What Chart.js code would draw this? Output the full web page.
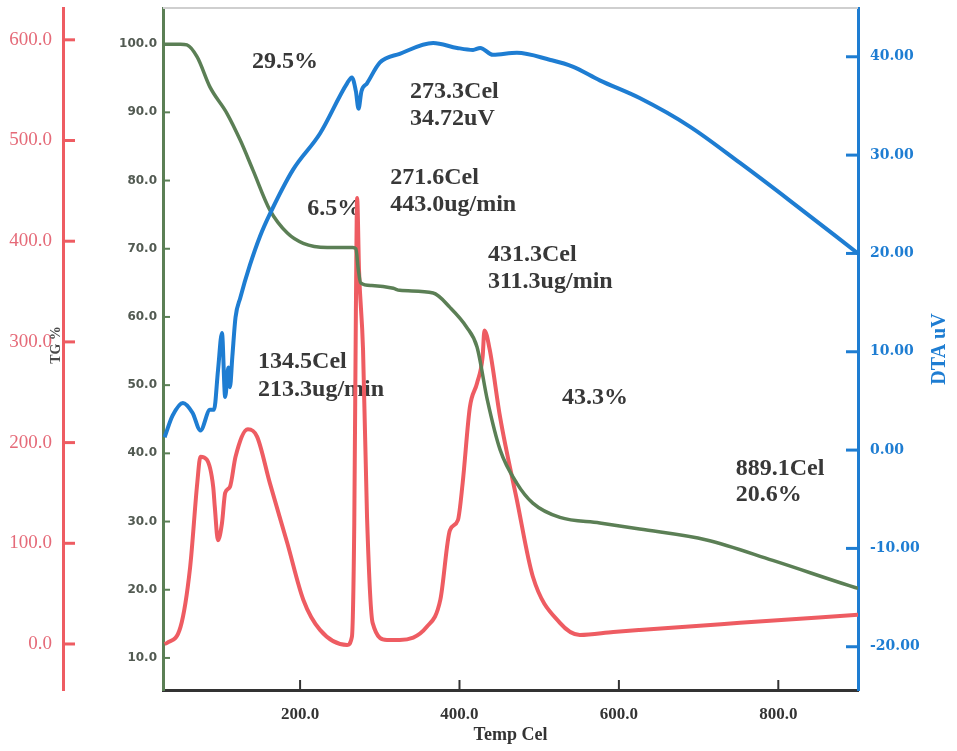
<!DOCTYPE html>
<html lang="en">
<head>
<meta charset="UTF-8">
<title>TG / DTG / DTA</title>
<script src="https://cdn.jsdelivr.net/npm/chart.js@4.4.1/dist/chart.umd.min.js"></script>
<style>
    html, body { margin: 0; padding: 0; background: #fff; }
</style>
</head>
<body>
<canvas id="myChart" width="957" height="751"></canvas>

<script>
// TG curve (mass %, left inner axis)
var tgTemp = [30, 50, 58, 71, 87, 108, 125, 141, 162, 184, 204, 234, 266, 270, 273, 276, 290, 317, 325, 367, 388, 409, 422, 435, 451, 472, 492, 526, 576, 626, 710, 793, 889, 900];
var tgMass = [100, 100, 99.9, 98.1, 93.7, 89.9, 85.9, 81.5, 75.7, 72.3, 70.8, 70.2, 70.2, 70.0, 67.0, 65.0, 64.6, 64.2, 63.9, 63.5, 61.4, 58.5, 55.6, 47.8, 40.5, 35.6, 32.7, 30.6, 29.8, 28.9, 27.3, 24.3, 20.6, 20.2];

// DTG curve (ug/min, left outer axis)
var dtgTemp = [30, 33, 50, 62, 71, 75, 83, 91, 93, 97, 102, 106, 112, 119, 134.5, 146, 162, 184, 204, 225, 259, 265, 268, 270, 271.6, 274, 279, 284, 291, 309, 325, 359, 376, 388, 398, 404, 413, 422, 429, 431.3, 438, 451, 472, 492, 526, 551, 593, 626, 752, 900];
var dtgRate = [0, 1, 17, 76, 160, 186, 183, 156, 136, 103, 120, 150, 156, 186, 213.3, 206, 160, 100, 44, 14, -1, 7, 120, 330, 443.0, 370, 292, 126, 21, 4, 4, 17, 44, 113, 123, 160, 235, 259, 285, 311.3, 292, 225, 143, 67, 21, 9, 12, 14, 21, 29];

// DTA curve (uV, right axis)
var dtaTemp = [30, 40, 53, 65, 75, 87, 92, 97, 102, 106, 110, 112, 115, 119, 125, 137, 150, 162, 191, 225, 259, 265, 270, 273.3, 277, 284, 300, 325, 367, 397, 417, 426, 442, 472, 513, 542, 576, 626, 689, 752, 814, 900];
var dtaSignal = [1.3, 3.5, 4.8, 3.8, 2.0, 4.1, 4.1, 8.1, 11.9, 5.4, 8.4, 6.4, 9.5, 13.5, 15.5, 18.8, 21.8, 24.0, 28.5, 32.2, 37.3, 37.9, 36.5, 34.72, 36.5, 37.3, 39.4, 40.3, 41.4, 40.9, 40.7, 40.9, 40.2, 40.4, 39.7, 39.0, 37.6, 35.8, 32.9, 29.2, 25.4, 20.0];

var tempTicks = [200, 400, 600, 800];
var tgTicks = [10, 20, 30, 40, 50, 60, 70, 80, 90, 100];
var dtgTicks = [0, 100, 200, 300, 400, 500, 600];
var dtaTicks = [-20, -10, 0, 10, 20, 30, 40];

// peak / step labels: [text, temp, TG %]
var notes = [
    ['29.5%', 139.8, 97.4],
    ['273.3Cel', 338, 93.0],
    ['34.72uV', 338, 89.0],
    ['271.6Cel', 313, 80.4],
    ['443.0ug/min', 313, 76.4],
    ['6.5%', 209, 75.8],
    ['431.3Cel', 435.7, 69.1],
    ['311.3ug/min', 435.7, 65.1],
    ['134.5Cel', 147.3, 53.4],
    ['213.3ug/min', 147.3, 49.3],
    ['43.3%', 528.5, 48.1],
    ['889.1Cel', 746.6, 37.8],
    ['20.6%', 746.6, 33.9]
];

(function () {
    var RED = '#ee5c62', GREEN = '#5b7f55', BLUE = '#1e7dd2';
    var SERIF = '"Liberation Serif", "Times New Roman", serif';

    function pts(xs, ys) {
        return xs.map(function (x, i) { return { x: x, y: ys[i] }; });
    }
    function fixTicks(list) {
        return function (scale) { scale.ticks = list.map(function (v) { return { value: v }; }); };
    }
    // fixed axis box, no extra room reserved for end labels
    function box(w, h) {
        return function (scale) {
            if (w) scale.width = w;
            if (h) scale.height = h;
            scale.paddingTop = 0;
            scale.paddingBottom = 0;
            scale.paddingLeft = 0;
            scale.paddingRight = 0;
        };
    }

    var notesPlugin = {
        id: 'notes',
        beforeDatasetsDraw: function (chart) {
            var ctx = chart.ctx, x = chart.scales.x, y = chart.scales.yTG;
            ctx.save();
            ctx.font = 'bold 24px ' + SERIF;
            ctx.fillStyle = '#383838';
            ctx.textBaseline = 'middle';
            ctx.textAlign = 'left';
            notes.forEach(function (n) {
                ctx.fillText(n[0], x.getPixelForValue(n[1]), y.getPixelForValue(n[2]));
            });
            ctx.restore();
        }
    };

    // short tick marks pointing into the plot, plus the rotated side titles
    var frame = {
        id: 'frame',
        afterDraw: function (chart) {
            var ctx = chart.ctx, a = chart.chartArea, s = chart.scales;
            function mark(scale, len, lw, color) {
                ctx.save();
                ctx.strokeStyle = color;
                ctx.lineWidth = lw;
                scale.ticks.forEach(function (t) {
                    var p = scale.getPixelForValue(t.value);
                    ctx.beginPath();
                    if (scale.isHorizontal()) {
                        ctx.moveTo(p, scale.top); ctx.lineTo(p, scale.top - len);
                    } else if (scale.position === 'left') {
                        ctx.moveTo(scale.right, p); ctx.lineTo(scale.right + len, p);
                    } else {
                        ctx.moveTo(scale.left, p); ctx.lineTo(scale.left - len, p);
                    }
                    ctx.stroke();
                });
                ctx.restore();
            }
            mark(s.x, 10, 2, '#333');
            mark(s.yTG, 7, 2, GREEN);
            mark(s.yDTG, 12, 3, RED);
            mark(s.yDTA, 12, 3, BLUE);

            ctx.save();
            ctx.strokeStyle = '#cfcfcf';
            ctx.lineWidth = 2;
            ctx.beginPath();
            ctx.moveTo(a.left, a.top);
            ctx.lineTo(a.right, a.top);
            ctx.stroke();

            var mid = (a.top + a.bottom) / 2;
            ctx.translate(s.yDTG.right - 7, mid - 4);
            ctx.rotate(-Math.PI / 2);
            ctx.textAlign = 'center';
            ctx.textBaseline = 'middle';
            ctx.fillStyle = '#4a4a4a';
            ctx.font = 'bold 14px ' + SERIF;
            ctx.fillText('TG %', 0, 0);
            ctx.restore();

            ctx.save();
            ctx.translate(940, mid);
            ctx.rotate(-Math.PI / 2);
            ctx.textAlign = 'center';
            ctx.textBaseline = 'middle';
            ctx.fillStyle = BLUE;
            ctx.font = 'bold 20px ' + SERIF;
            ctx.fillText('DTA uV', 0, 0);
            ctx.restore();
        }
    };

    var ctx = document.getElementById('myChart').getContext('2d');
    new Chart(ctx, {
        type: 'line',
        data: {
            datasets: [
                {
                    label: 'DTA',
                    data: pts(dtaTemp, dtaSignal),
                    yAxisID: 'yDTA',
                    borderColor: BLUE,
                    borderWidth: 4,
                    order: 1
                },
                {
                    label: 'TG',
                    data: pts(tgTemp, tgMass),
                    yAxisID: 'yTG',
                    borderColor: GREEN,
                    borderWidth: 3.5,
                    order: 2
                },
                {
                    label: 'DTG',
                    data: pts(dtgTemp, dtgRate),
                    yAxisID: 'yDTG',
                    borderColor: RED,
                    borderWidth: 4,
                    order: 3
                }
            ]
        },
        options: {
            responsive: false,
            animation: false,
            events: [],
            layout: { padding: { top: 8, left: 0, right: 0, bottom: 0 } },
            elements: {
                point: { radius: 0 },
                line: { cubicInterpolationMode: 'monotone', fill: false }
            },
            plugins: { legend: { display: false }, tooltip: { enabled: false } },
            scales: {
                x: {
                    type: 'linear',
                    position: 'bottom',
                    min: 28,
                    max: 900,
                    afterBuildTicks: fixTicks(tempTicks),
                    afterFit: box(0, 61),
                    grid: { display: false, drawTicks: false },
                    border: { display: true, color: '#333', width: 3 },
                    ticks: {
                        padding: 14,
                        color: '#333',
                        font: { family: SERIF, size: 17, weight: 'bold' },
                        callback: function (v) { return v.toFixed(1); }
                    },
                    title: {
                        display: true,
                        text: 'Temp Cel',
                        color: '#333',
                        font: { family: SERIF, size: 18, weight: 'bold' },
                        padding: { top: 0, bottom: 5 }
                    }
                },
                yTG: {
                    type: 'linear',
                    position: 'left',
                    weight: 0,
                    min: 5.3,
                    max: 105.3,
                    afterBuildTicks: fixTicks(tgTicks),
                    afterFit: box(100, 0),
                    grid: { display: false, drawTicks: false },
                    border: { display: true, color: GREEN, width: 3 },
                    ticks: {
                        padding: 6,
                        color: '#525a52',
                        font: { family: '"DejaVu Sans", sans-serif', size: 12, weight: 'bold' },
                        callback: function (v) { return v.toFixed(1); }
                    }
                },
                yDTG: {
                    type: 'linear',
                    position: 'left',
                    weight: 1,
                    min: -45.7,
                    max: 631.6,
                    afterBuildTicks: fixTicks(dtgTicks),
                    afterFit: box(63, 0),
                    grid: { display: false, drawTicks: false },
                    border: { display: true, color: RED, width: 3 },
                    ticks: {
                        padding: 11,
                        color: '#e56a78',
                        font: { family: SERIF, size: 19 },
                        callback: function (v) { return v.toFixed(1); }
                    }
                },
                yDTA: {
                    type: 'linear',
                    position: 'right',
                    min: -24.4,
                    max: 44.96,
                    afterBuildTicks: fixTicks(dtaTicks),
                    afterFit: box(99, 0),
                    grid: { display: false, drawTicks: false },
                    border: { display: true, color: BLUE, width: 3 },
                    ticks: {
                        padding: 12,
                        color: BLUE,
                        font: { family: '"DejaVu Serif", serif', size: 14, weight: 'bold' },
                        callback: function (v) { return v.toFixed(2); }
                    }
                }
            }
        },
        plugins: [notesPlugin, frame]
    });
})();
</script>
</body>
</html>
